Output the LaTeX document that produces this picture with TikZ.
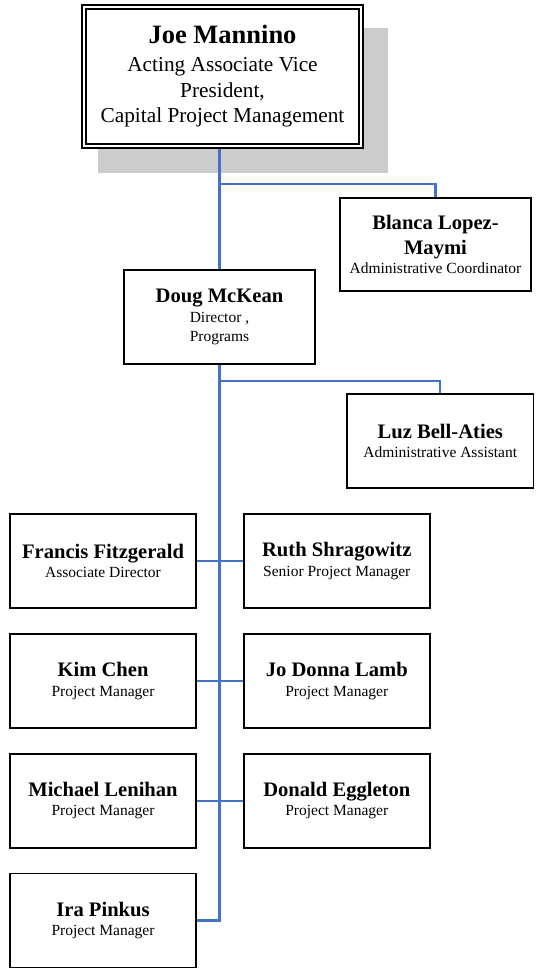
\documentclass[tikz,border=0pt]{standalone}
\usepackage{fontspec}
\setmainfont{Liberation Serif}
\usetikzlibrary{positioning, calc}
\definecolor{linkblue}{RGB}{68,114,196}
\definecolor{shadowgray}{RGB}{204,204,204}
\newcommand{\pname}[2][20.6]{{\fontsize{#1}{#1}\selectfont\bfseries #2}}
\tikzset{
  box/.style = {draw=black, line width=1.8pt, fill=white, align=center,
    inner sep=0pt, font=\fontsize{15.5}{19.5}\selectfont},% plain box
  staff/.style = {box, minimum width=186pt, minimum height=94pt},% one person
  boss/.style = {box, double, double distance=2.6pt, line width=1.8pt,
    outer sep=3.1pt, minimum width=277pt, minimum height=139pt,
    font=\fontsize{21.3}{25.5}\selectfont},% top box, double frame
  link/.style = {draw=linkblue, line width=2.2pt}% blue connector
}
\begin{document}
\begin{tikzpicture}[x=1pt, y=-1pt, node distance=24pt and 46pt]
\useasboundingbox (0,0) rectangle (536,968);
\fill[shadowgray] (98,28) rectangle (388,173);
\node [boss] (joe) at (222.5,76.5) {\pname[26.5]{Joe Mannino}\\[2.5pt]
  Acting Associate Vice\\ President,\\ Capital Project Management};
\node [staff, minimum width=191pt, minimum height=93pt] (blanca) at (435.5,244.5)
  {\pname{Blanca Lopez-}\\[5.5pt] \pname{Maymi}\\ Administrative Coordinator};
\node [staff, minimum width=191pt] (doug) at (219.5,317)
  {\pname{Doug McKean}\\ Director ,\\ Programs};
\node [staff, minimum width=186.5pt] (luz) at (440.25,441)
  {\pname{Luz Bell-Aties}\\ Administrative Assistant};
% project staff
\node [staff] (francis) at (103,561) {\pname{Francis Fitzgerald}\\ Associate Director};
\node [staff, right=of francis] (ruth) {\pname{Ruth Shragowitz}\\ Senior Project Manager};
\node [staff, below=of francis] (kim) {\pname{Kim Chen}\\ Project Manager};
\node [staff, below=of ruth] (jodonna) {\pname{Jo Donna Lamb}\\ Project Manager};
\node [staff, below=of kim] (michael) {\pname{Michael Lenihan}\\ Project Manager};
\node [staff, below=of jodonna] (donald) {\pname{Donald Eggleton}\\ Project Manager};
\node [staff, below=of michael] (ira) {\pname{Ira Pinkus}\\ Project Manager};
% connectors
\draw [link] (joe.south -| doug) -- (doug.north);
\draw [link] ($(joe.south -| doug)+(0,35)$) -| (blanca.north);
\draw [link] (doug.south) -- (doug.south |- ira.east) -- (ira.east);
\draw [link] ($(doug.south)+(0,16)$) -| (luz.north);
\foreach \l/\r in {francis/ruth, kim/jodonna, michael/donald}
  \draw [link] (\l.east) -- (\r.west);
\end{tikzpicture}
\end{document}
